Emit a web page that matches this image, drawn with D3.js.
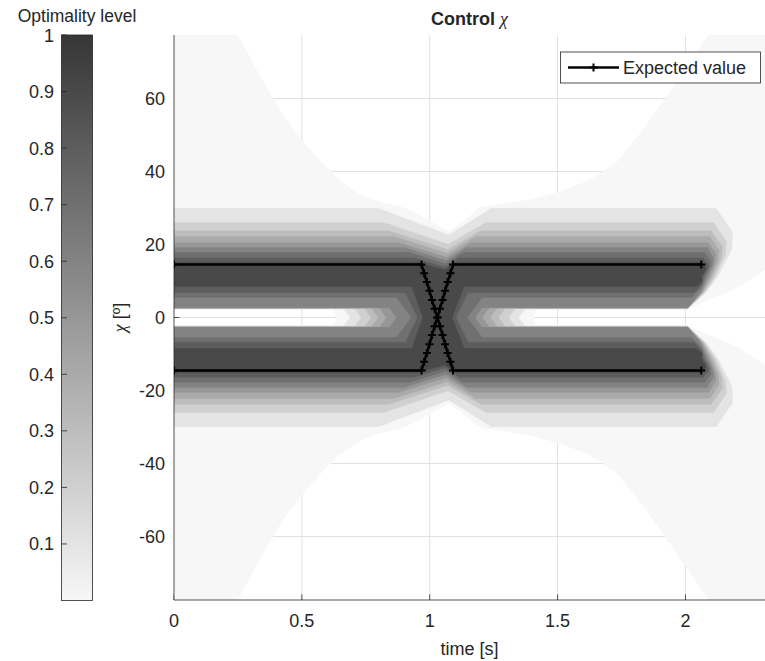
<!DOCTYPE html>
<html><head><meta charset="utf-8">
<script src="https://cdn.jsdelivr.net/npm/d3@7"></script>
<style>
body{margin:0;background:#fff}
svg{display:block}
text{font-family:"Liberation Sans",Arial,Helvetica,sans-serif;fill:#262626}
</style></head>
<body><svg id="c" width="765" height="661"></svg>
<script>
// ---------------- data ----------------
const xTicks = [0, 0.5, 1, 1.5, 2];
const yTicks = [-60, -40, -20, 0, 20, 40, 60];
const cbTicks = [0.1, 0.2, 0.3, 0.4, 0.5, 0.6, 0.7, 0.8, 0.9, 1];

// Expected value trajectories (time [s], chi [deg])
const trajT   = [0, 0.968, 0.978, 0.989, 0.999, 1.009, 1.019, 1.030, 1.040, 1.050, 1.060, 1.070, 1.081, 1.091, 2.062];
const trajA   = [14.5, 14.5, 12.1, 9.7, 7.3, 4.8, 2.4, 0, -2.4, -4.8, -7.3, -9.7, -12.1, -14.5, -14.5];
const trajB   = [-14.5, -14.5, -12.1, -9.7, -7.3, -4.8, -2.4, 0, 2.4, 4.8, 7.3, 9.7, 12.1, 14.5, 14.5];

// Filled contour levels (optimality) and their outlines (upper half, mirrored)
const levels      = [0, 0.1, 0.2, 0.3, 0.4, 0.5, 0.6, 0.7, 0.8, 0.9];
const outerChi    = [null, 29.9, 26.0, 23.8, 22.2, 20.5, 19.2, 17.8, 16.4, 15.1];
const innerChi    = [2.2, 2.3, 2.4, 2.5, 2.55, 2.6, 2.7, 5.5, 6.8, 8.5];
const leftArmT    = [0.625, 0.663, 0.706, 0.745, 0.772, 0.804, 0.843, 0.870, 0.905, 0.930];
const leftTipT    = [0.636, 0.693, 0.736, 0.775, 0.802, 0.834, 0.873, 0.932, 0.955, 0.975];
const rightTipT   = [1.405, 1.343, 1.304, 1.265, 1.233, 1.202, 1.174, 1.143, 1.100, 1.085];
const rightArmT   = [1.415, 1.373, 1.334, 1.295, 1.263, 1.232, 1.204, 1.205, 1.150, 1.135];
const pinchStartT = [null, 0.80, 0.82, 0.84, 0.86, 0.88, 0.90, 0.92, 0.94, 0.955];
const pinchT      = [null, 1.075, 1.072, 1.070, 1.068, 1.066, 1.064, 1.062, 1.060, 1.058];
const pinchChi    = [null, 22.6, 20.1, 18.6, 17.6, 16.5, 15.6, 14.7, 13.8, 13.0];
const pinchEndT   = [null, 1.24, 1.22, 1.20, 1.18, 1.16, 1.145, 1.13, 1.115, 1.10];
const endStartT   = [null, 2.12, 2.11, 2.10, 2.095, 2.09, 2.085, 2.075, 2.068, 2.06];
const endMaxT     = [null, 2.185, 2.16, 2.145, 2.132, 2.12, 2.11, 2.10, 2.09, 2.08];
const end11T      = [null, 2.127, 2.118, 2.11, 2.102, 2.094, 2.086, 2.078, 2.07, 2.062];
const cornerT     = [null, 2.007, 2.008, 2.008, 2.009, 2.009, 2.01, 2.025, 2.033, 2.045];

// Lowest band (very light) outline, upper half
const lowBandT   = [0, 0, 0.25, 0.31, 0.37, 0.43, 0.50, 0.57, 0.64, 0.72, 0.80, 0.88, 0.95, 1.075, 1.20, 1.30, 1.40, 1.51, 1.62, 1.73, 1.84, 1.96, 2.09, 2.311, 2.311, 2.20, 2.005, 1.415, 1.405, 0.636, 0.625];
const lowBandChi = [2.2, 77.4, 77.4, 69.5, 62, 55, 48.5, 43, 38, 34, 31.8, 30.6, 28.5, 23.5, 30.3, 31.2, 32.5, 34.5, 37.5, 42.5, 52, 64, 77.4, 77.4, 13, 8, 2.2, 2.2, 0, 0, 2.2];

// ---------------- scales ----------------
const x = d3.scaleLinear().domain([0, 2.311]).range([174, 765]);
const y = d3.scaleLinear().domain([-77.4, 77.4]).range([600, 35]);
const cy = d3.scaleLinear().domain([0, 1]).range([600.5, 35]);
const cmap = d3.scaleLinear().domain([0, 1]).range(["#f7f7f7", "#363636"]);

const svg = d3.select("#c");
const defs = svg.append("defs");
defs.append("clipPath").attr("id", "plotclip").append("rect")
  .attr("x", x(0)).attr("y", y(77.4)).attr("width", x(2.311) - x(0)).attr("height", y(-77.4) - y(77.4));

// grid + ticks (below contour fill)
const gGrid = svg.append("g");
gGrid.selectAll(".gx").data(xTicks.slice(1)).join("line")
  .attr("x1", d => x(d)).attr("x2", d => x(d)).attr("y1", y(77.4)).attr("y2", y(-77.4))
  .attr("stroke", "#e1e1e1").attr("stroke-width", 1);
gGrid.selectAll(".gy").data(yTicks).join("line")
  .attr("x1", x(0)).attr("x2", x(2.311)).attr("y1", d => y(d)).attr("y2", d => y(d))
  .attr("stroke", "#e1e1e1").attr("stroke-width", 1);
gGrid.selectAll(".tx").data(xTicks).join("line")
  .attr("x1", d => x(d)).attr("x2", d => x(d)).attr("y1", y(-77.4)).attr("y2", y(-77.4) - 5.5)
  .attr("stroke", "#262626").attr("stroke-width", 0.8);
gGrid.selectAll(".ty").data(yTicks).join("line")
  .attr("x1", x(0)).attr("x2", x(0) + 5.5).attr("y1", d => y(d)).attr("y2", d => y(d))
  .attr("stroke", "#262626").attr("stroke-width", 0.8);

// ---------------- contour fill ----------------
const gFill = svg.append("g").attr("clip-path", "url(#plotclip)");
const line = d3.line().x(d => x(d[0])).y(d => y(d[1]));
function mirror(pts, s) { return pts.map(p => [p[0], p[1] === 0 ? -0.35 * s : p[1] * s]); }
function drawHalfPair(pts, color) {
  [1, -1].forEach(s => {
    gFill.append("path").attr("d", line(mirror(pts, s)) + "Z")
      .attr("fill", color).attr("stroke", color).attr("stroke-width", 0.3);
  });
}
// lowest band
drawHalfPair(lowBandT.map((t, i) => [t, lowBandChi[i]]), cmap(levels[0]));
// remaining bands
for (let j = 1; j < levels.length; j++) {
  const o = outerChi[j], iC = innerChi[j];
  const pts = [
    [0, iC], [0, o],
    [pinchStartT[j], o], [pinchT[j], pinchChi[j]], [pinchEndT[j], o],
    [endStartT[j], o],
    [endMaxT[j], o - 0.35 * (o - 11.2)],
    [endMaxT[j] - 0.004, 11.2 + 0.4 * (o - 11.2)],
    [end11T[j], 11.2],
    [(end11T[j] + cornerT[j]) / 2 + 0.012, (11.2 + iC) / 2],
    [cornerT[j], iC],
    [rightArmT[j], iC], [rightTipT[j], 0],
    [leftTipT[j], 0], [leftArmT[j], iC]
  ];
  drawHalfPair(pts, cmap(levels[j]));
}

// axis lines
svg.append("line").attr("x1", x(0)).attr("x2", x(0)).attr("y1", y(77.4)).attr("y2", y(-77.4))
  .attr("stroke", "#262626").attr("stroke-width", 0.8);
svg.append("line").attr("x1", x(0)).attr("x2", x(2.311)).attr("y1", y(-77.4)).attr("y2", y(-77.4))
  .attr("stroke", "#262626").attr("stroke-width", 0.8);

// trajectories
const gTraj = svg.append("g").attr("clip-path", "url(#plotclip)");
[trajA, trajB].forEach(series => {
  const pts = trajT.map((t, i) => [t, series[i]]);
  gTraj.append("path").attr("d", line(pts)).attr("fill", "none")
    .attr("stroke", "#000").attr("stroke-width", 2.5);
  gTraj.selectAll(null).data(pts).join("path")
    .attr("d", d => `M${x(d[0]) - 4},${y(d[1])}h8M${x(d[0])},${y(d[1]) - 4}v8`)
    .attr("stroke", "#000").attr("stroke-width", 2);
});

// tick labels
svg.append("g").selectAll("text").data(xTicks).join("text")
  .attr("x", d => x(d)).attr("y", 627).attr("text-anchor", "middle").attr("font-size", 18)
  .text(d => String(d));
svg.append("g").selectAll("text").data(yTicks).join("text")
  .attr("x", 165).attr("y", d => y(d) + 6.5).attr("text-anchor", "end").attr("font-size", 18)
  .text(d => d < 0 ? "-" + Math.abs(d) : String(d));

// axis labels + title
svg.append("text").attr("x", (x(0) + x(2.311)) / 2).attr("y", 655).attr("text-anchor", "middle")
  .attr("font-size", 18).text("time [s]");
const yl = svg.append("text").attr("transform", `translate(126,${y(0)}) rotate(-90)`)
  .attr("text-anchor", "middle").attr("font-size", 18);
yl.append("tspan").attr("font-family", "'Liberation Serif','DejaVu Serif',serif").attr("font-style", "italic").text("χ");
yl.append("tspan").text(" [º]");
const tt = svg.append("text").attr("x", (x(0) + x(2.311)) / 2).attr("y", 25).attr("text-anchor", "middle")
  .attr("font-size", 18);
tt.append("tspan").attr("font-weight", "bold").text("Control ");
tt.append("tspan").attr("font-family", "'Liberation Serif','DejaVu Serif',serif").attr("font-style", "italic").text("χ");

// legend
const lg = svg.append("g");
lg.append("rect").attr("x", 560.5).attr("y", 52).attr("width", 200).attr("height", 31)
  .attr("fill", "#fff").attr("stroke", "#262626").attr("stroke-width", 0.8);
lg.append("line").attr("x1", 568).attr("x2", 619).attr("y1", 67.5).attr("y2", 67.5)
  .attr("stroke", "#000").attr("stroke-width", 2.5);
lg.append("path").attr("d", "M589.5,67.5h8M593.5,63.5v8").attr("stroke", "#000").attr("stroke-width", 2);
lg.append("text").attr("x", 623).attr("y", 74).attr("font-size", 18).text("Expected value");

// colorbar
const grad = defs.append("linearGradient").attr("id", "cbgrad").attr("x1", 0).attr("x2", 0).attr("y1", 1).attr("y2", 0);
d3.range(0, 1.0001, 0.1).forEach(v => grad.append("stop").attr("offset", v).attr("stop-color", cmap(v)));
svg.append("rect").attr("x", 61.5).attr("y", cy(1)).attr("width", 31).attr("height", cy(0) - cy(1))
  .attr("fill", "url(#cbgrad)").attr("stroke", "#262626").attr("stroke-width", 0.8);
svg.append("g").selectAll("line").data(cbTicks).join("line")
  .attr("x1", 61.5).attr("x2", 67).attr("y1", d => cy(d)).attr("y2", d => cy(d))
  .attr("stroke", "#262626").attr("stroke-width", 0.8);
svg.append("g").selectAll("text").data(cbTicks).join("text")
  .attr("x", 54).attr("y", d => cy(d) + 6.5).attr("text-anchor", "end").attr("font-size", 18)
  .text(d => String(d));
svg.append("text").attr("x", 77).attr("y", 22).attr("text-anchor", "middle").attr("font-size", 17.5)
  .text("Optimality level");
</script></body></html>
